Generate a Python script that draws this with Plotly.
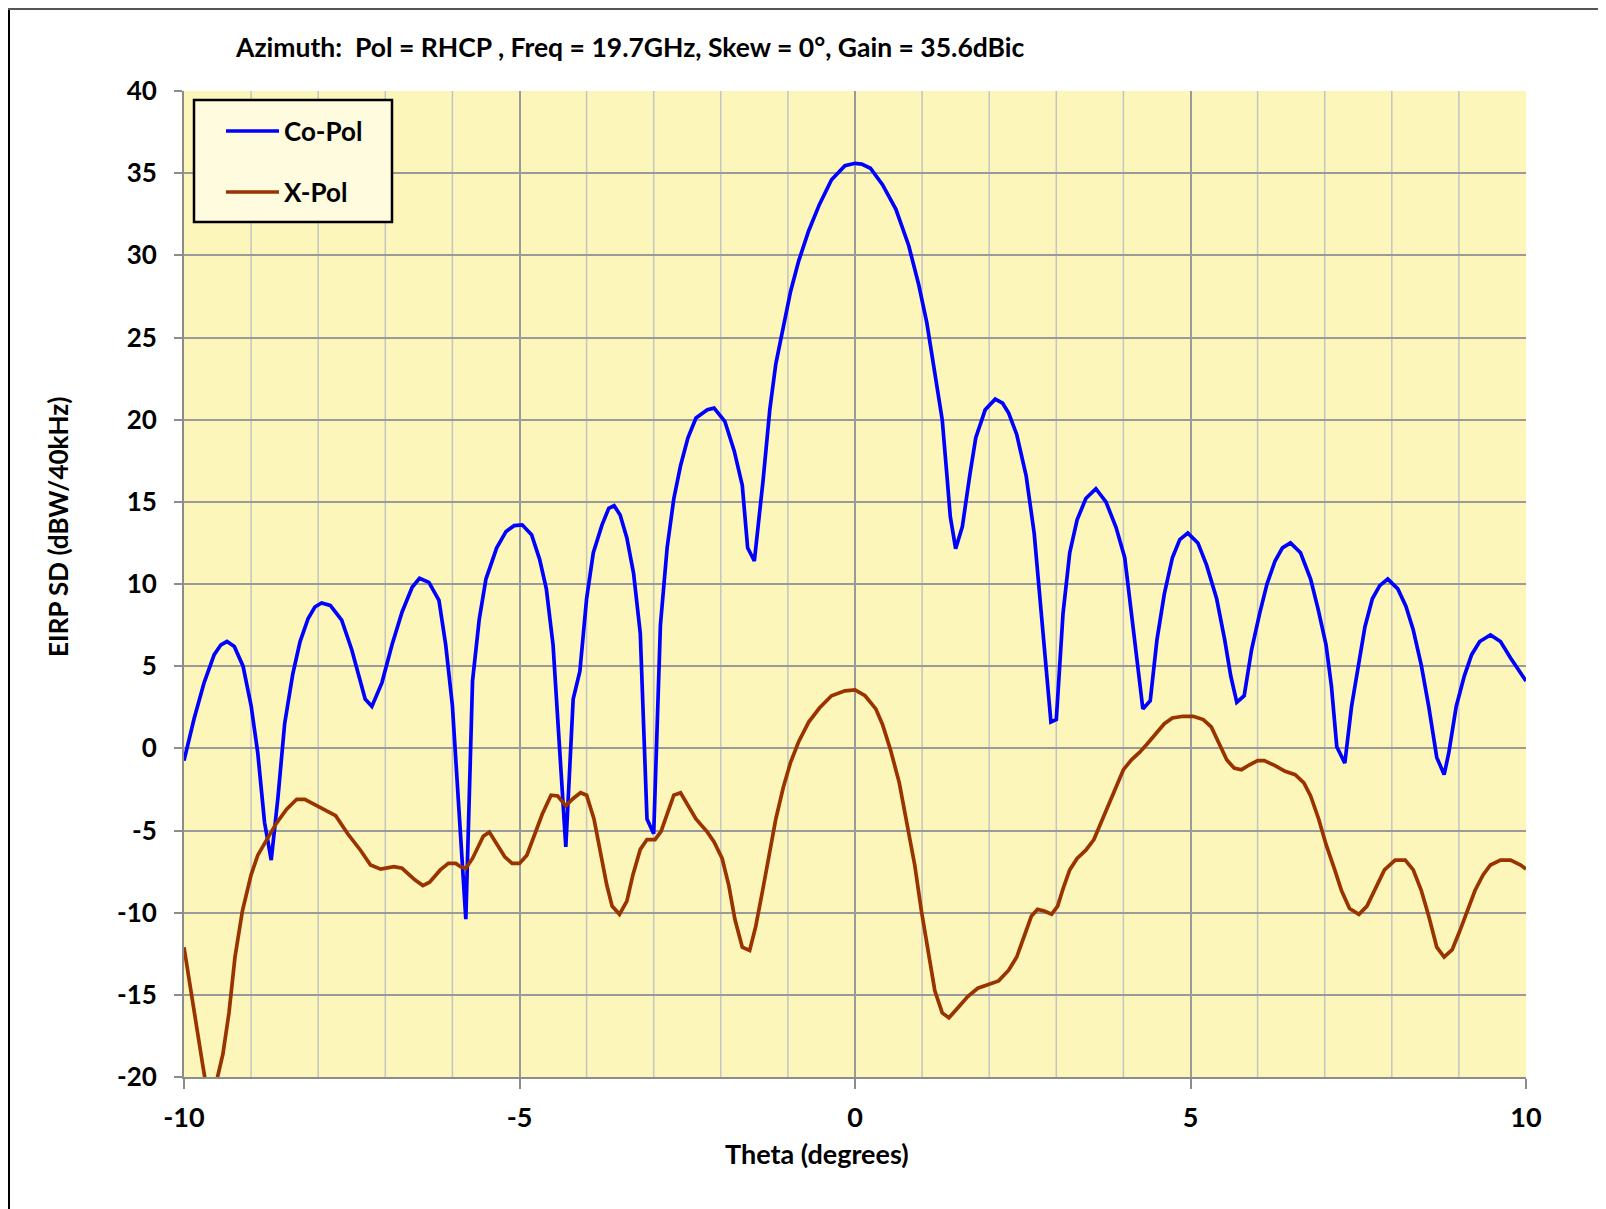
import plotly.graph_objects as go

# ---- Data ----
co_theta = [-10.0, -9.85, -9.7, -9.55, -9.45, -9.36, -9.25, -9.12, -9.0, -8.9, -8.8, -8.7,
            -8.6, -8.5, -8.38, -8.27, -8.15, -8.05, -7.95, -7.82, -7.65, -7.5, -7.3, -7.2, -7.05,
            -6.9, -6.75, -6.6, -6.49, -6.35, -6.2, -6.1, -6.0, -5.9, -5.8, -5.7, -5.6,
            -5.5, -5.34, -5.2, -5.08, -4.96, -4.82, -4.7, -4.6, -4.5, -4.4, -4.31, -4.2,
            -4.1, -4.0, -3.9, -3.77, -3.67, -3.59, -3.5, -3.4, -3.3, -3.2, -3.1, -3.0,
            -2.9, -2.8, -2.7, -2.6, -2.49, -2.37, -2.2, -2.1, -1.94, -1.8, -1.68, -1.6,
            -1.5, -1.37, -1.27, -1.18, -1.07, -0.96, -0.84, -0.69, -0.53, -0.35, -0.15, 0.0,
            0.1, 0.23, 0.41, 0.61, 0.8, 0.95, 1.07, 1.18, 1.3, 1.37, 1.42, 1.5,
            1.6, 1.71, 1.8, 1.94, 2.09, 2.2, 2.29, 2.41, 2.55, 2.67, 2.75, 2.82,
            2.92, 3.0, 3.1, 3.2, 3.31, 3.44, 3.59, 3.74, 3.89, 4.02, 4.12, 4.2,
            4.29, 4.4, 4.5, 4.61, 4.73, 4.84, 4.96, 5.11, 5.24, 5.39, 5.51, 5.6,
            5.69, 5.8, 5.91, 6.03, 6.14, 6.26, 6.37, 6.49, 6.64, 6.79, 6.9, 7.02,
            7.1, 7.18, 7.3, 7.4, 7.51, 7.6, 7.71, 7.82, 7.94, 8.09, 8.21, 8.32,
            8.44, 8.55, 8.67, 8.78, 8.85, 8.96, 9.08, 9.19, 9.31, 9.47, 9.62, 9.77,
            10.0]
co_gain = [-0.75, 1.8, 4.0, 5.7, 6.3, 6.5, 6.2, 5.0, 2.6, -0.3, -4.5, -6.8,
           -3.0, 1.5, 4.5, 6.5, 7.9, 8.6, 8.85, 8.7, 7.8, 6.0, 3.0, 2.55, 4.0,
           6.3, 8.3, 9.8, 10.35, 10.1, 9.0, 6.3, 2.6, -3.5, -10.4, 4.1, 7.85,
           10.3, 12.2, 13.2, 13.55, 13.6, 13.0, 11.5, 9.7, 6.3, -0.6, -6.0, 3.0,
           4.7, 9.1, 11.9, 13.6, 14.6, 14.77, 14.2, 12.8, 10.65, 7.0, -4.3, -5.2,
           7.5, 12.2, 15.2, 17.2, 18.9, 20.1, 20.6, 20.7, 19.9, 18.1, 16.0, 12.2,
           11.4, 16.3, 20.6, 23.4, 25.7, 27.8, 29.65, 31.5, 33.1, 34.6, 35.45, 35.6,
           35.55, 35.3, 34.3, 32.8, 30.6, 28.2, 25.9, 23.1, 20.0, 16.6, 14.1, 12.15,
           13.5, 16.6, 18.9, 20.6, 21.25, 21.0, 20.4, 19.1, 16.6, 13.1, 9.4, 5.7,
           1.6, 1.75, 8.2, 11.9, 13.9, 15.2, 15.8, 15.0, 13.45, 11.6, 8.2, 5.05,
           2.4, 2.9, 6.6, 9.4, 11.6, 12.7, 13.1, 12.5, 11.15, 9.1, 6.6, 4.4,
           2.8, 3.2, 6.0, 8.2, 10.0, 11.4, 12.2, 12.5, 11.9, 10.3, 8.5, 6.3,
           3.8, 0.1, -0.9, 2.55, 5.35, 7.4, 9.1, 9.9, 10.3, 9.7, 8.65, 7.2,
           5.05, 2.55, -0.55, -1.6, -0.25, 2.55, 4.4, 5.7, 6.5, 6.9, 6.5, 5.5,
           4.1]

x_theta = [-10.0, -9.9, -9.8, -9.72, -9.65, -9.58, -9.5, -9.42, -9.33, -9.24, -9.13, -9.0,
           -8.9, -8.78, -8.63, -8.47, -8.32, -8.2, -8.06, -7.9, -7.74, -7.56, -7.37, -7.22,
           -7.07, -6.87, -6.75, -6.56, -6.44, -6.34, -6.18, -6.06, -5.95, -5.88, -5.8, -5.7,
           -5.6, -5.54, -5.45, -5.34, -5.22, -5.11, -5.0, -4.89, -4.78, -4.66, -4.53, -4.43,
           -4.31, -4.2, -4.09, -4.0, -3.89, -3.79, -3.7, -3.62, -3.51, -3.4, -3.31, -3.2,
           -3.1, -2.98, -2.89, -2.8, -2.7, -2.6, -2.49, -2.37, -2.2, -2.1, -1.98, -1.88,
           -1.79, -1.68, -1.57, -1.48, -1.37, -1.27, -1.18, -1.07, -0.96, -0.84, -0.69, -0.53,
           -0.35, -0.15, 0.0, 0.15, 0.31, 0.41, 0.53, 0.66, 0.76, 0.89, 0.99, 1.1,
           1.19, 1.3, 1.4, 1.53, 1.68, 1.83, 1.98, 2.14, 2.29, 2.41, 2.52, 2.63,
           2.72, 2.82, 2.93, 3.02, 3.1, 3.2, 3.31, 3.44, 3.56, 3.66, 3.79, 3.89,
           4.0, 4.12, 4.24, 4.35, 4.47, 4.61, 4.73, 4.89, 5.04, 5.19, 5.31, 5.42,
           5.54, 5.65, 5.76, 5.88, 6.0, 6.1, 6.26, 6.41, 6.56, 6.69, 6.79, 6.91,
           7.02, 7.15, 7.25, 7.37, 7.51, 7.63, 7.76, 7.89, 8.05, 8.2, 8.32, 8.44,
           8.55, 8.67, 8.78, 8.9, 9.01, 9.13, 9.24, 9.36, 9.47, 9.62, 9.77, 9.92,
           10.0]
x_gain = [-12.1, -14.8, -17.4, -19.3, -21.0, -21.5, -20.0, -18.6, -16.1, -12.7, -9.9, -7.7,
          -6.5, -5.7, -4.6, -3.7, -3.1, -3.1, -3.4, -3.7, -4.1, -5.2, -6.2, -7.1,
          -7.35, -7.2, -7.3, -8.0, -8.35, -8.15, -7.4, -7.0, -7.0, -7.2, -7.3, -6.7,
          -5.8, -5.35, -5.1, -5.8, -6.6, -7.0, -7.0, -6.5, -5.35, -4.0, -2.85, -2.9,
          -3.5, -3.05, -2.7, -2.85, -4.3, -6.5, -8.3, -9.6, -10.1, -9.3, -7.7, -6.15,
          -5.55, -5.55, -5.05, -4.0, -2.85, -2.7, -3.5, -4.3, -5.1, -5.7, -6.7, -8.35,
          -10.4, -12.1, -12.3, -10.85, -8.5, -6.2, -4.3, -2.4, -0.85, 0.4, 1.6, 2.45,
          3.2, 3.5, 3.55, 3.2, 2.4, 1.45, -0.1, -2.1, -4.3, -7.1, -9.9, -12.7,
          -14.75, -16.1, -16.4, -15.8, -15.1, -14.6, -14.4, -14.15, -13.5, -12.7, -11.45, -10.2,
          -9.8, -9.9, -10.1, -9.6, -8.55, -7.4, -6.7, -6.2, -5.55, -4.6, -3.35, -2.3,
          -1.3, -0.7, -0.25, 0.25, 0.8, 1.5, 1.85, 1.95, 1.95, 1.75, 1.3, 0.4,
          -0.7, -1.2, -1.3, -1.0, -0.75, -0.75, -1.05, -1.4, -1.6, -2.1, -2.9, -4.3,
          -5.85, -7.4, -8.65, -9.75, -10.1, -9.6, -8.55, -7.4, -6.8, -6.8, -7.4, -8.65,
          -10.2, -12.1, -12.7, -12.25, -11.15, -9.9, -8.65, -7.7, -7.1, -6.8, -6.8, -7.1,
          -7.35]

series_names = ["Co-Pol", "X-Pol"]
series_colors = ["#0000FF", "#993300"]
x_ticks = [-10, -5, 0, 5, 10]
y_ticks = [-20, -15, -10, -5, 0, 5, 10, 15, 20, 25, 30, 35, 40]
minor_x = [v for v in range(-9, 10) if v % 5 != 0]

FONT = "Lato"
OFF = 8  # page body margin
W, H = 1598, 1201
ML, MT = 176, 83
MR = W - (1526 - OFF)
MB = H - (1077 - OFF)
pw = W - ML - MR
ph = H - MT - MB


def px(xp):
    return (xp - OFF - ML) / pw


def py(yp):
    return 1 - (yp - OFF - MT) / ph


fig = go.Figure()
for xs, ys, nm, col in [(co_theta, co_gain, series_names[0], series_colors[0]),
                        (x_theta, x_gain, series_names[1], series_colors[1])]:
    fig.add_trace(go.Scatter(x=xs, y=ys, mode="lines", name=nm, showlegend=False,
                             line=dict(color=col, width=3.7)))

shapes = []
for v in minor_x:
    shapes.append(dict(type="line", xref="x", yref="paper", x0=v, x1=v, y0=0, y1=1,
                       line=dict(color="#C4C4C4", width=1.5), layer="below"))
# figure border lines (top, left)
shapes.append(dict(type="line", xref="paper", yref="paper",
                   x0=px(OFF + 1), x1=px(OFF + 1), y0=py(H + OFF), y1=py(OFF),
                   line=dict(color="#000000", width=2)))
shapes.append(dict(type="line", xref="paper", yref="paper",
                   x0=px(OFF), x1=px(W + OFF - 2), y0=py(OFF + 1), y1=py(OFF + 1),
                   line=dict(color="#555555", width=2)))
# legend box
shapes.append(dict(type="rect", xref="paper", yref="paper",
                   x0=px(194), x1=px(392), y0=py(222), y1=py(100),
                   fillcolor="#FEFBDF", line=dict(color="black", width=2.5)))
annotations = []
legend_y = [131, 192]
for nm, col, yy in zip(series_names, series_colors, legend_y):
    shapes.append(dict(type="line", xref="paper", yref="paper",
                       x0=px(226), x1=px(279), y0=py(yy), y1=py(yy),
                       line=dict(color=col, width=3.7)))
    annotations.append(dict(text=nm, xref="paper", yref="paper", x=px(282), y=py(yy),
                            xanchor="left", yanchor="middle", showarrow=False,
                            font=dict(family=FONT, size=26, color="black", weight="bold")))
# axis titles
annotations.append(dict(text="Theta (degrees)", xref="paper", yref="paper",
                        x=px(817), y=py(1153), xanchor="center", yanchor="middle",
                        showarrow=False,
                        font=dict(family=FONT, size=27, color="black", weight="bold")))
annotations.append(dict(text="EIRP SD (dBW/40kHz)", xref="paper", yref="paper",
                        x=px(58), y=py(527), xanchor="center", yanchor="middle",
                        textangle=-90, showarrow=False,
                        font=dict(family=FONT, size=26, color="black", weight="bold")))

fig.update_layout(
    width=W, height=H,
    margin=dict(l=ML, r=MR, t=MT, b=MB),
    paper_bgcolor="white",
    plot_bgcolor="#FDF6BA",
    font=dict(family=FONT, color="black"),
    title=dict(text="Azimuth:  Pol = RHCP , Freq = 19.7GHz, Skew = 0°, Gain = 35.6dBic",
               xref="container", yref="container",
               x=(236 - OFF) / W, xanchor="left", y=1 - (48 - OFF) / H, yanchor="middle",
               font=dict(family=FONT, size=26.5, color="black", weight="bold")),
    showlegend=False,
    shapes=shapes,
    annotations=annotations,
)

fig.update_xaxes(range=[-10, 10], tickvals=x_ticks, ticktext=[str(v) for v in x_ticks],
                 showgrid=True, gridcolor="#9A9A9A", gridwidth=1.5,
                 zeroline=False, showline=True, linecolor="#8C8C8C", linewidth=2,
                 ticks="outside", ticklen=10, tickcolor="#8C8C8C", tickwidth=2,
                 ticklabelstandoff=6,
                 tickfont=dict(family=FONT, size=27, color="black", weight="bold"))
fig.update_yaxes(range=[-20, 40], tickvals=y_ticks, ticktext=[str(v) for v in y_ticks],
                 showgrid=True, gridcolor="#9A9A9A", gridwidth=1.5,
                 zeroline=False, showline=True, linecolor="#8C8C8C", linewidth=2,
                 ticks="outside", ticklen=8, tickcolor="#8C8C8C", tickwidth=2,
                 ticklabelstandoff=12,
                 tickfont=dict(family=FONT, size=26, color="black", weight="bold"))

fig.write_html("out.html")
